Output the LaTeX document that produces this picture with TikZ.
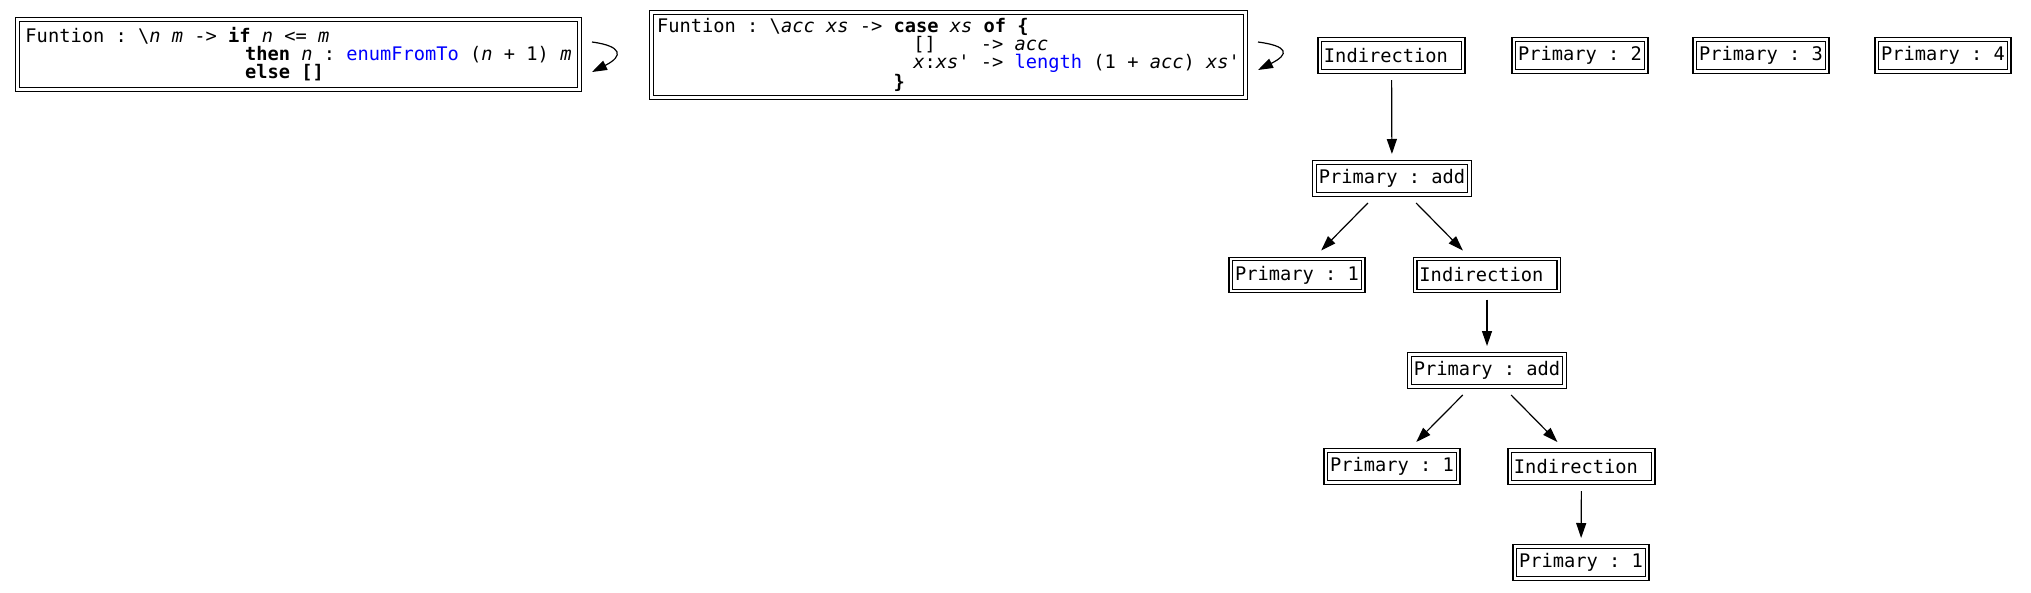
\documentclass[tikz,border=0pt]{standalone}
\usepackage{fontspec}
\setmonofont{DejaVu Sans Mono}
\usepackage{tikz}
\usetikzlibrary{arrows.meta,positioning}

\begin{document}
\begin{tikzpicture}[x=1pt,y=-1pt,
   every node/.style={font=\ttfamily\fontsize{18.7}{18}\selectfont},
   cell/.style={draw,double,line width=1.3pt,double distance=2.2pt,inner xsep=4.3pt,inner ysep=0pt,minimum height=32pt,outer sep=8.5pt},
   fun/.style={cell,align=left},
   >={Triangle[length=15pt,width=10pt]},
   link/.style={->,line width=1.2pt}]
   \useasboundingbox (0,0) rectangle (2031,592);
   % function closures
   \node[fun,minimum width=562pt,minimum height=70pt] (f1) at (298.5,54.5) {%
      Funtion : \textbackslash\textit{n} \textit{m} -> \textbf{if} \textit{n} <= \textit{m}\\
      \hspace*{11.74em}\textbf{then} \textit{n} : \textcolor{blue}{enumFromTo} (\textit{n} + 1) \textit{m}\\
      \hspace*{11.74em}\textbf{else} \textbf{[]}};
   \node[fun,minimum width=594pt,minimum height=85pt] (f2) at (948.5,55) {%
      Funtion : \textbackslash\textit{acc} \textit{xs} -> \textbf{case} \textit{xs} \textbf{of} \textbf{\{}\\
      \hspace*{13.7em}[]~~~~-> \textit{acc}\\
      \hspace*{13.7em}\textit{x}:\textit{xs}' -> \textcolor{blue}{length} (1 + \textit{acc}) \textit{xs}'\\
      \hspace*{12.64em}\textbf{\}}};
   % heap cells
   \node[cell] (i1) at (1391.5,55.5) {Indirection\hspace*{0.6em}};
   \node[cell] (p2) at (1580,55.5) {Primary : 2};
   \node[cell] (p3) at (1761,55.5) {Primary : 3};
   \node[cell] (p4) at (1943,55.5) {Primary : 4};
   \node[cell] (a1) at (1392,178.5) {Primary : add};
   \node[cell] (p1a) at (1297,275) {Primary : 1};
   \node[cell] (i2) at (1487,275) {Indirection\hspace*{0.6em}};
   \node[cell] (a2) at (1487,370.5) {Primary : add};
   \node[cell] (p1b) at (1392,466.5) {Primary : 1};
   \node[cell] (i3) at (1581.5,466.5) {Indirection\hspace*{0.6em}};
   \node[cell] (p1c) at (1581,562.5) {Primary : 1};
   \draw[link] ([shift={(4,-12.5)}]f1.east) .. controls +(30,4) and +(32,-16) .. ([shift={(4,17.5)}]f1.east);
   \draw[link] ([shift={(4,-13)}]f2.east) .. controls +(30,4) and +(32,-16) .. ([shift={(4,15)}]f2.east);
   \path[link]
   (i1) edge (a1)
   (a1) edge (p1a) edge (i2)
   (i2) edge (a2)
   (a2) edge (p1b) edge (i3)
   (i3) edge (p1c);
\end{tikzpicture}
\end{document}
